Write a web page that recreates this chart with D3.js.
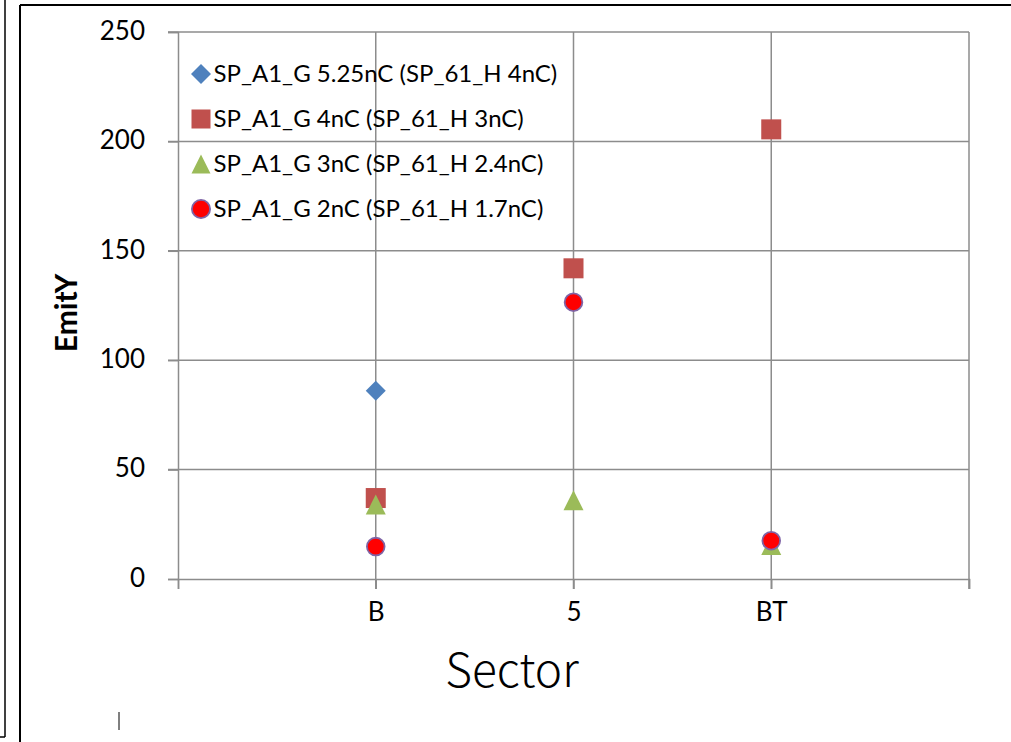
<!DOCTYPE html>
<html>
<head>
<meta charset="utf-8">
<script src="https://cdn.jsdelivr.net/npm/d3@7"></script>
<style>
  html, body { margin: 0; padding: 0; background: #fff; }
  svg { display: block; }
</style>
</head>
<body>
<svg id="chart" width="1011" height="742"></svg>
<script>
// Sector positions along the x axis and their labels
const sectors = ["B", "5", "BT"];
const sectorPos = [1, 2, 3];
const yTicks = [0, 50, 100, 150, 200, 250];

// Emittance per sector for each bunch charge setting (null = not measured)
const series1Name = "SP_A1_G 5.25nC (SP_61_H 4nC)";
const series1 = [86, null, null];
const series2Name = "SP_A1_G 4nC (SP_61_H 3nC)";
const series2 = [37, 142, 205.5];
const series3Name = "SP_A1_G 3nC (SP_61_H 2.4nC)";
const series3 = [34, 36, 15.5];
const series4Name = "SP_A1_G 2nC (SP_61_H 1.7nC)";
const series4 = [14.8, 126.5, 17.5];

const svg = d3.select("#chart");
const gridColor = "#8c8c8c";
const labelFont = "Lato, 'Open Sans', sans-serif";

// Outer frames
svg.append("line").attr("x1", 5).attr("y1", 0).attr("x2", 5).attr("y2", 737)
  .attr("stroke", "#000").attr("stroke-width", 1.5);
svg.append("line").attr("x1", 0).attr("y1", 737).attr("x2", 5).attr("y2", 737)
  .attr("stroke", "#000").attr("stroke-width", 1.5);
svg.append("line").attr("x1", 20).attr("y1", 5).attr("x2", 20).attr("y2", 742)
  .attr("stroke", "#000").attr("stroke-width", 2);
svg.append("line").attr("x1", 20).attr("y1", 5).attr("x2", 1011).attr("y2", 5)
  .attr("stroke", "#000").attr("stroke-width", 2);
svg.append("line").attr("x1", 119).attr("y1", 712).attr("x2", 119).attr("y2", 730)
  .attr("stroke", "#000").attr("stroke-width", 1);

const x = d3.scaleLinear().domain([0, 4]).range([178, 969]);
const y = d3.scaleLinear().domain([0, 250]).range([579, 32]);

// Gridlines
const grid = svg.append("g");
grid.selectAll("line.h").data(yTicks.filter(d => d > 0)).join("line")
  .attr("x1", x(0) - 10).attr("x2", x(4))
  .attr("y1", d => y(d)).attr("y2", d => y(d))
  .attr("stroke", gridColor).attr("stroke-width", 1.5);
grid.selectAll("line.v").data([1, 2, 3, 4]).join("line")
  .attr("x1", d => x(d)).attr("x2", d => x(d))
  .attr("y1", y(250)).attr("y2", y(0) + 10)
  .attr("stroke", gridColor).attr("stroke-width", 1.5);

// Axes
const yAxis = svg.append("g").attr("transform", `translate(${x(0)},0)`)
  .call(d3.axisLeft(y).tickValues(yTicks).tickSize(10).tickPadding(23));
const xAxis = svg.append("g").attr("transform", `translate(0,${y(0)})`)
  .call(d3.axisBottom(x).tickValues([0, 1, 2, 3, 4]).tickSize(10)
    .tickFormat(d => { const i = sectorPos.indexOf(d); return i >= 0 ? sectors[i] : ""; })
    .tickPadding(14));
[yAxis, xAxis].forEach(g => {
  g.selectAll("path.domain").attr("stroke", gridColor).attr("stroke-width", 1.5);
  g.selectAll(".tick line").attr("stroke", gridColor).attr("stroke-width", 1.5);
  g.selectAll("text").attr("fill", "#000").attr("font-family", labelFont);
});
yAxis.selectAll("text").attr("font-size", 26).attr("dy", "0.28em");
xAxis.selectAll("text").attr("font-size", 26);

// Axis titles
svg.append("text").attr("transform", "translate(77,313) rotate(-90)")
  .attr("text-anchor", "middle").attr("font-family", labelFont)
  .attr("font-weight", "bold").attr("font-size", 30).text("EmitY");
svg.append("text").attr("x", 512).attr("y", 687)
  .attr("text-anchor", "middle").attr("font-family", "'Noto Sans CJK JP', 'Noto Sans', sans-serif")
  .attr("font-size", 46).attr("font-weight", 300).text("Sector");

// Marker shapes
function marker(g, kind, s) {
  if (kind === "diamond") {
    g.append("path").attr("d", `M0,${-s/2}L${s/2},0L0,${s/2}L${-s/2},0Z`).attr("fill", "#4F81BD");
  } else if (kind === "square") {
    g.append("rect").attr("x", -s/2).attr("y", -s/2).attr("width", s).attr("height", s).attr("fill", "#C0504D");
  } else if (kind === "triangle") {
    g.append("path").attr("d", `M0,${-s/2}L${s/2},${s/2}L${-s/2},${s/2}Z`).attr("fill", "#9BBB59");
  } else {
    g.append("circle").attr("r", s/2 - 0.9).attr("fill", "#FF0000")
      .attr("stroke", "#7F64A6").attr("stroke-width", 1.8);
  }
}

const allSeries = [
  { name: series1Name, values: series1, kind: "diamond", size: 20 },
  { name: series2Name, values: series2, kind: "square", size: 20 },
  { name: series3Name, values: series3, kind: "triangle", size: 20 },
  { name: series4Name, values: series4, kind: "circle", size: 19.5 }
];

allSeries.forEach(s => {
  s.values.forEach((v, i) => {
    if (v == null) return;
    const g = svg.append("g").attr("transform", `translate(${x(sectorPos[i])},${y(v)})`);
    marker(g, s.kind, s.size);
  });
});

// Legend
const legendRows = [74, 119, 164, 209];
const legendSize = { diamond: 20, square: 19, triangle: 19, circle: 20 };
allSeries.forEach((s, i) => {
  const g = svg.append("g").attr("transform", `translate(201,${legendRows[i]})`);
  marker(g, s.kind, legendSize[s.kind]);
  g.append("text").attr("x", 12.5).attr("y", 0).attr("dy", "0.35em")
    .attr("font-family", labelFont).attr("font-size", 24).text(s.name);
});
</script>
</body>
</html>
